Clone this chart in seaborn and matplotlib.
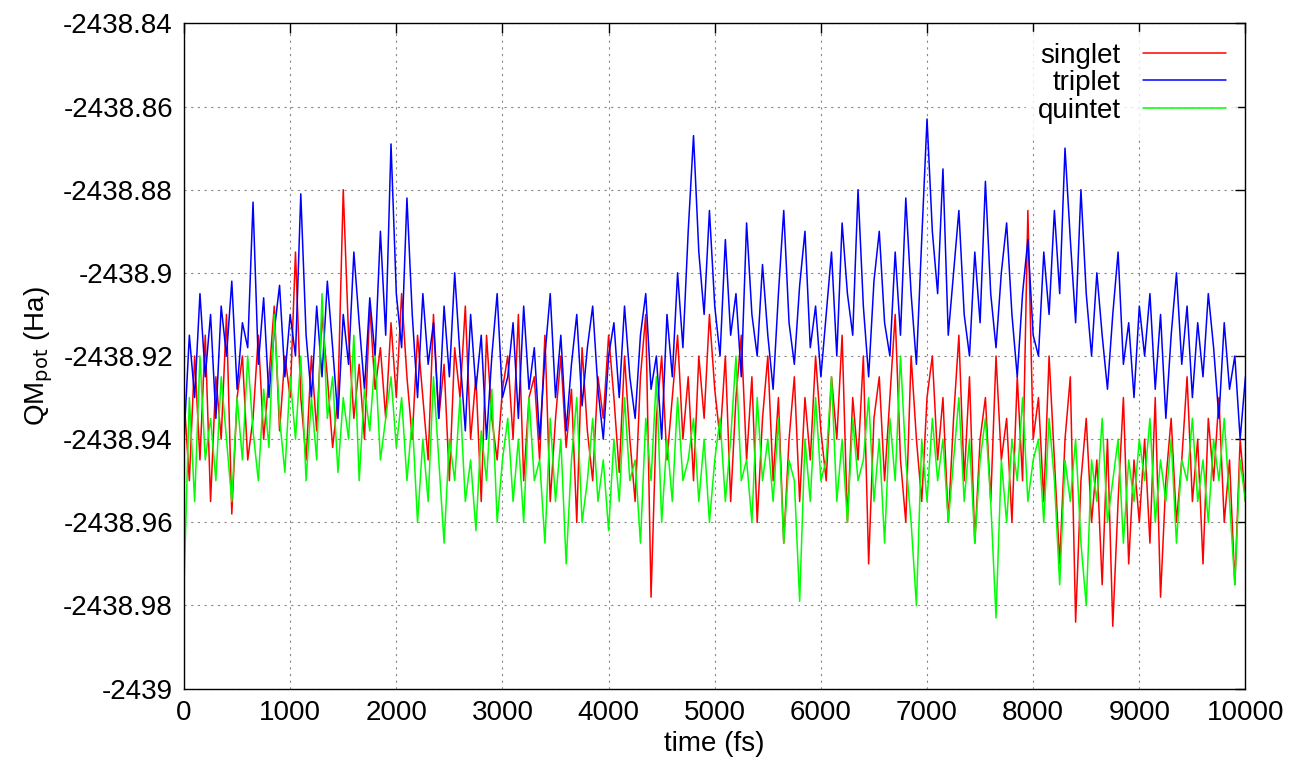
import matplotlib
matplotlib.use("Agg")
import matplotlib.pyplot as plt
import numpy as np
import pandas as pd
import seaborn as sns
from matplotlib.ticker import FuncFormatter, MultipleLocator

sns.set_style("white")
plt.rcParams['font.family'] = ['Liberation Sans', 'DejaVu Sans']
plt.rcParams['text.color'] = 'black'
plt.rcParams['axes.labelcolor'] = 'black'
plt.rcParams['xtick.color'] = 'black'
plt.rcParams['ytick.color'] = 'black'

# energies, in mHa relative to -2438.9 Ha, every 50 fs
base = -2438.9
singlet_mha = [
    -30,-50,-20,-45,-15,-55,-25,-40,-10,-58,-30,-20,-45,-35,-15,-40,-25,-8,-38,-20,-30,
    5,-30,-45,-20,-38,-10,-25,-42,-30,20,-15,-35,-22,-40,-8,-28,-18,-35,-12,-30,
    -5,-25,-40,-15,-30,-45,-10,-35,-22,-50,-18,-30,-8,-40,-25,-55,-15,-35,-45,-28,
    -20,-40,-10,-50,-30,-25,-45,-15,-55,-35,-20,-42,-28,-60,-18,-38,-50,-25,-35,-15,
    -30,-48,-20,-40,-55,-25,-10,-78,-35,-20,-45,-30,-15,-40,-25,-50,-20,-35,-10,-28,
    -40,-20,-55,-30,-15,-45,-25,-60,-35,-20,-50,-30,-65,-40,-25,-55,-30,-45,-20,-38,
    -50,-25,-40,-15,-60,-30,-45,-20,-70,-35,-25,-50,-30,-10,-45,-60,-20,-40,-55,-30,
    -20,-45,-30,-60,-35,-15,-50,-25,-65,-40,-30,-55,-20,-45,-35,-60,-25,-50,15,-40,
    -30,-55,-20,-45,-70,-40,-25,-84,-50,-35,-60,-45,-75,-40,-85,-55,-30,-70,-45,-60,
    -40,-65,-30,-78,-50,-35,-60,-45,-25,-55,-40,-70,-35,-50,-30,-60,-45,-75,-40,-55,
]
triplet_mha = [
    -40,-15,-30,-5,-25,-10,-35,-8,-20,-2,-28,-12,-18,17,-22,-6,-30,-14,-3,-25,-10,
    -20,19,-15,-30,-8,-25,-2,-18,-35,-10,-22,5,-12,-28,-6,-20,10,-15,31,-5,
    -18,18,-10,-30,-5,-22,-12,-35,-8,-25,0,-20,-38,-10,-28,-15,-40,-20,-5,-30,
    -25,-12,-35,-8,-28,-18,-40,-20,-5,-30,-15,-38,-22,-10,-32,-18,-8,-28,-40,-20,
    -12,-30,-8,-25,-35,-15,-5,-28,-20,-40,-10,-25,0,-18,10,33,5,-10,15,-8,
    -20,8,-15,-5,-25,12,-10,-20,2,-15,-28,-5,15,-12,-22,-3,10,-18,-8,-25,
    -10,5,-20,12,-5,-15,20,-8,-25,-2,10,-12,-20,5,-15,18,-5,-22,8,37,
    10,-5,25,-15,0,15,-10,-20,5,-12,22,-5,-18,0,12,-10,-25,-5,8,-15,
    -20,5,-10,15,-5,30,8,-12,20,-5,-20,0,-15,-28,-10,5,-22,-12,-30,-8,
    -20,-5,-28,-10,-35,-15,0,-22,-8,-30,-12,-25,-5,-18,-35,-12,-28,-20,-40,-25,
]
quintet_mha = [
    -75,-30,-55,-20,-45,-35,-50,-25,-40,-55,-30,-45,-20,-38,-50,-28,-42,-10,-35,-48,-25,
    -40,-20,-50,-30,-45,-5,-35,-25,-48,-30,-40,-15,-50,-28,-38,-20,-45,-35,-25,-42,
    -30,-50,-35,-60,-40,-55,-25,-45,-65,-40,-50,-30,-55,-45,-62,-38,-50,-28,-60,-45,
    -35,-55,-40,-60,-30,-50,-45,-65,-35,-55,-40,-70,-45,-30,-60,-50,-35,-55,-45,-62,
    -40,-55,-30,-50,-45,-65,-35,-50,-25,-60,-40,-55,-30,-50,-45,-35,-55,-40,-60,-45,
    -35,-55,-40,-20,-50,-45,-60,-30,-50,-40,-55,-35,-65,-45,-50,-79,-40,-55,-30,-50,
    -45,-25,-55,-40,-60,-35,-50,-45,-30,-55,-40,-65,-35,-50,-20,-45,-60,-80,-40,-55,
    -35,-50,-40,-60,-45,-30,-55,-40,-65,-45,-35,-55,-83,-45,-60,-40,-50,-30,-55,-45,
    -40,-60,-35,-50,-75,-45,-55,-40,-65,-80,-45,-55,-35,-60,-50,-40,-65,-45,-55,-40,
    -50,-35,-60,-45,-55,-40,-65,-45,-50,-35,-55,-45,-60,-40,-50,-35,-55,-75,-45,-55,
]
series = {'singlet': singlet_mha, 'triplet': triplet_mha, 'quintet': quintet_mha}
colors = {'singlet': '#ff0000', 'triplet': '#0000ff', 'quintet': '#00ff00'}

frames = []
for name, vals in series.items():
    t = np.linspace(0, 10000, len(vals))
    frames.append(pd.DataFrame({'time': t, 'E': base + np.array(vals) / 1000.0, 'state': name}))
df = pd.concat(frames, ignore_index=True)

fig = plt.figure(figsize=(12.96, 7.79), dpi=100)
ax = fig.add_axes([0.142, 0.116, 0.819, 0.854])
sns.lineplot(data=df, x='time', y='E', hue='state', palette=colors, ax=ax,
             linewidth=1.1, estimator=None, sort=False)

ax.set_xlim(0, 10000)
ax.set_ylim(-2439.0, -2438.84)
ax.xaxis.set_major_locator(MultipleLocator(1000))
ax.yaxis.set_major_locator(MultipleLocator(0.02))
ax.yaxis.set_major_formatter(FuncFormatter(lambda v, p: f'{v:.2f}'.rstrip('0').rstrip('.')))
ax.grid(True, color='#888888', linestyle=(0, (2, 4)), linewidth=0.8)
ax.tick_params(direction='in', length=7, width=1, top=True, right=True, labelsize=20, pad=8)
for s in ax.spines.values():
    s.set_color('black')
    s.set_linewidth(1)
ax.set_xlabel('time (fs)', fontsize=20, labelpad=4)
ax.set_ylabel('QM$_{\\mathrm{pot}}$ (Ha)', fontsize=20, labelpad=6)
leg = ax.legend(loc='upper right', frameon=True, markerfirst=False, fontsize=20,
                handlelength=3, borderaxespad=0.3, labelspacing=0.05)
leg.get_frame().set_facecolor('white')
leg.get_frame().set_edgecolor('white')
for t in leg.get_texts():
    t.set_ha('right')

fig.savefig('out.png', dpi=100)
